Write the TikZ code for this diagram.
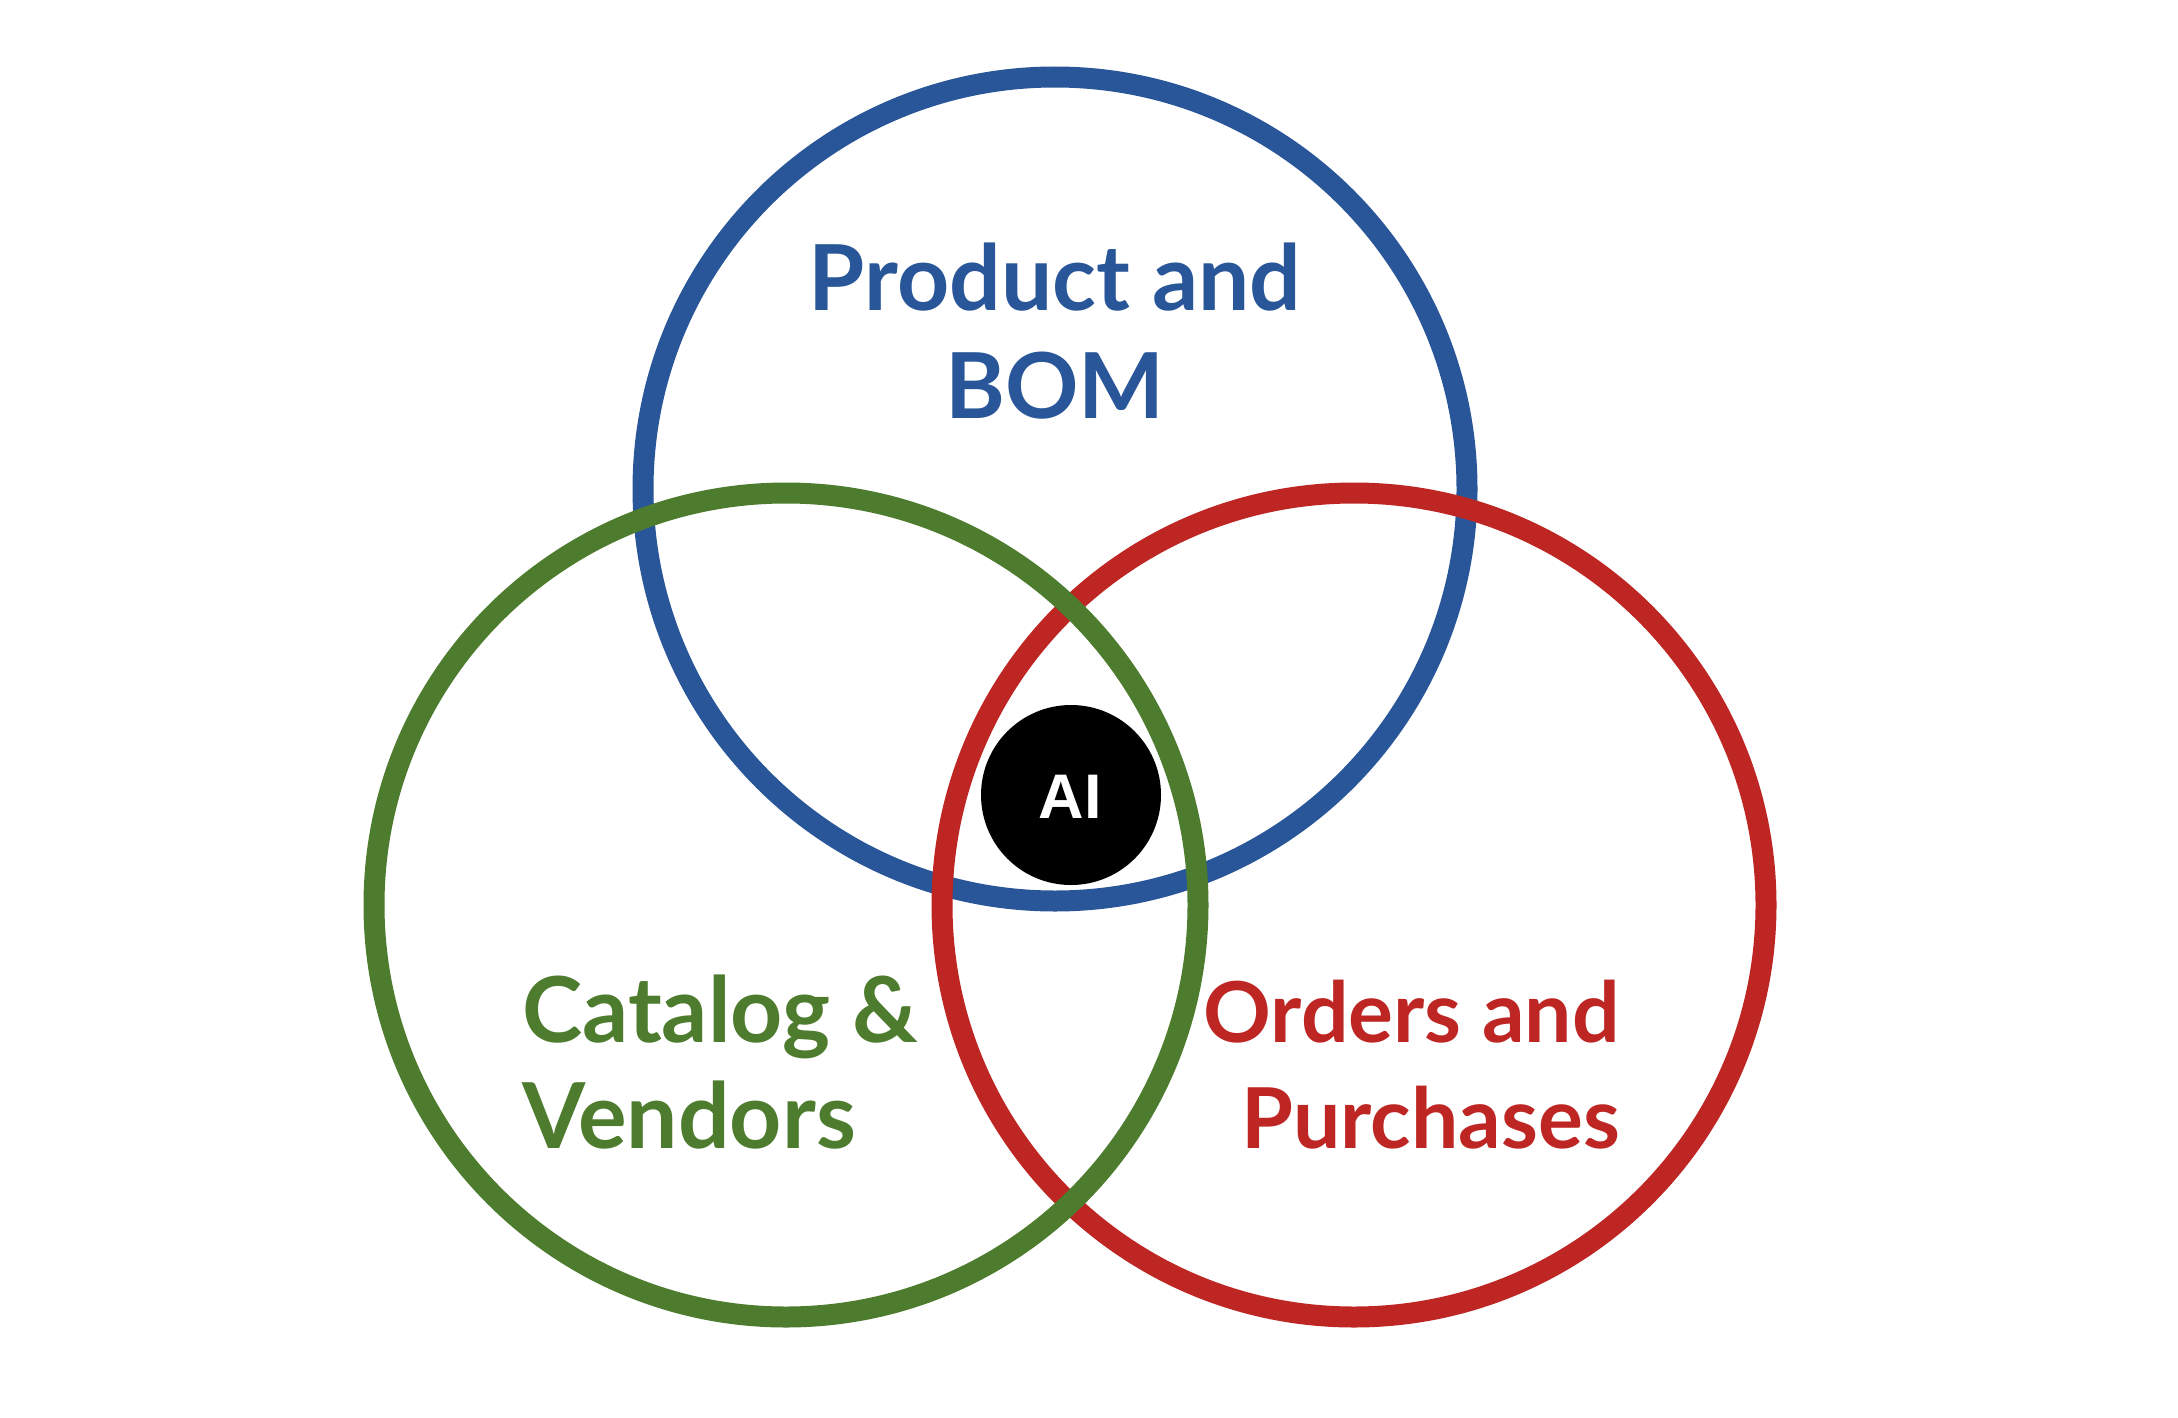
\documentclass[tikz,border=0pt]{standalone}
\usepackage{fontspec}
\newfontfamily\labelfont{Lato}
\newfontfamily\aifont{Liberation Sans}
\definecolor{cblue}{RGB}{40,86,152}
\definecolor{cgreen}{RGB}{78,124,46}
\definecolor{cred}{RGB}{190,38,36}
\begin{document}
\begin{tikzpicture}[x=1pt,y=-1pt,
  ring/.style={line width=21pt},
  lbl/.style={inner sep=0pt,font=\labelfont\bfseries\fontsize{91}{108}\selectfont},
  lblsmall/.style={inner sep=0pt,font=\labelfont\bfseries\fontsize{84}{100}\selectfont}]
\useasboundingbox[fill=white] (0,0) rectangle (2178,1418);
\coordinate (cb) at (1055,489);
\coordinate (cr) at (1354,905);
\coordinate (cg) at (786,905);
\draw[ring,cblue] (cb) circle[radius=412];
\draw[ring,cred] (cr) circle[radius=412];
\draw[ring,cgreen] (cg) circle[radius=412];
\node[circle,fill=black,minimum size=180pt,inner sep=0pt] (ai) at (1071,795) {};
\node[anchor=base,inner sep=0pt,text=white,font=\aifont\bfseries\fontsize{63}{63}\selectfont] (aitext) at (1070,818) {AI};
\node[lbl,anchor=base,text=cblue] (pb1) at (1055,310) {Product and};
\node[lbl,anchor=base,text=cblue] (pb2) at (1055,418) {BOM};
\node[lbl,anchor=base west,text=cgreen] (cv1) at (522,1042) {Catalog \&};
\node[lbl,anchor=base west,text=cgreen] (cv2) at (522,1148) {Vendors};
\node[lblsmall,anchor=base east,text=cred] (op1) at (1620,1042) {Orders and};
\node[lblsmall,anchor=base east,text=cred] (op2) at (1620,1148) {Purchases};
\end{tikzpicture}
\end{document}
